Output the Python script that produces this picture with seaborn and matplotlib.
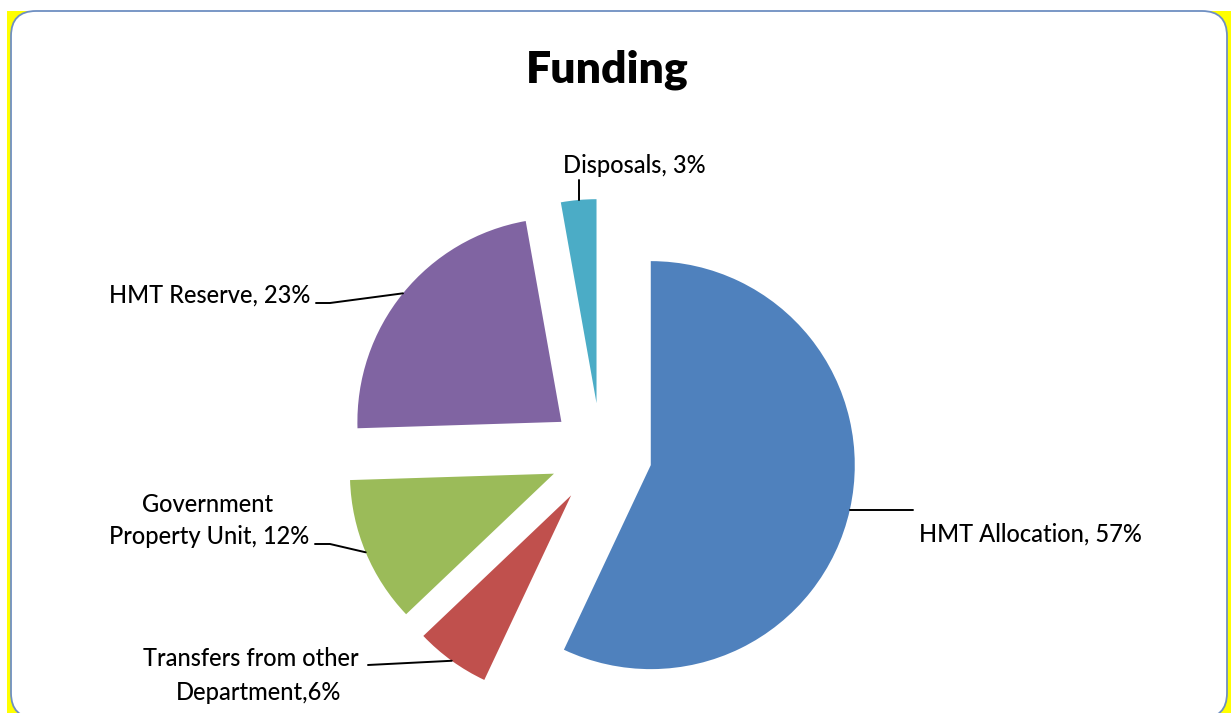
import numpy as np
import matplotlib
matplotlib.use("Agg")
import matplotlib.pyplot as plt
from matplotlib.patches import Rectangle, FancyBboxPatch
import seaborn as sns

# ---- data ----
categories = ["HMT Allocation", "Transfers from other Department", "Government Property Unit",
              "HMT Reserve", "Disposals"]
shares = [57.0, 5.9, 11.6, 22.7, 2.8]
label_texts = [["HMT Allocation, 57%"],
               ["Transfers from other", "Department,6%"],
               ["Government", "Property Unit, 12%"],
               ["HMT Reserve, 23%"],
               ["Disposals, 3%"]]
title = "Funding"

sns.set_theme(style="white")
plt.rcParams['font.family'] = ['Lato', 'DejaVu Sans']
plt.rcParams['text.color'] = 'black'
colors = sns.color_palette(["#4F81BD", "#C0504D", "#9BBB59", "#8064A2", "#4BACC6"])

W, H = 1231, 713
fig = plt.figure(figsize=(W / 100, H / 100), dpi=100)
fig.patch.set_facecolor("white")
ax = fig.add_axes([0, 0, 1, 1])


def py(y):  # pixel row -> data y
    return H - y


# background: yellow frame + white rounded panel
ax.add_patch(Rectangle((7, -20), W, py(11) + 20, facecolor="#FFFF00", edgecolor="none", zorder=0))
ax.add_patch(FancyBboxPatch((11, py(718)), 1227 - 11, 718 - 11,
                            boxstyle="round,pad=0,rounding_size=25",
                            facecolor="white", edgecolor="#6E8FC2", linewidth=1.3, zorder=1))

wedges, _ = ax.pie(shares, colors=colors, startangle=90, counterclock=False,
                   center=(601, py(454)), radius=204, explode=[51] * len(shares),
                   wedgeprops=dict(linewidth=0, zorder=2))
for w in wedges:
    w.set_zorder(2)

ax.set_xlim(0, W)
ax.set_ylim(0, H)
ax.set_aspect("equal")
ax.axis("off")


def arc_mid(w):
    t = np.deg2rad((w.theta1 + w.theta2) / 2)
    cx, cy = w.center
    return cx + w.r * np.cos(t), cy + w.r * np.sin(t)


fs = 17
tk = dict(fontsize=fs, color="black", zorder=4, fontweight="medium")
lc = dict(color="black", linewidth=1.4, zorder=3)

# HMT Allocation
mx, my = arc_mid(wedges[0])
ax.plot([mx, 913], [my, my], **lc)
ax.text(919, py(542), label_texts[0][0], ha="left", va="baseline", **tk)

# Transfers
mx, my = arc_mid(wedges[1])
ax.plot([368, mx], [py(665), my], **lc)
ax.text(251, py(666), label_texts[1][0], ha="center", va="baseline", **tk)
ax.text(259, py(700), label_texts[1][1], ha="center", va="baseline", **tk)

# Government Property Unit
mx, my = arc_mid(wedges[2])
ax.plot([315, 330, mx], [py(544), py(544), my], **lc)
ax.text(208, py(512), label_texts[2][0], ha="center", va="baseline", **tk)
ax.text(209, py(544), label_texts[2][1], ha="center", va="baseline", **tk)

# HMT Reserve
mx, my = arc_mid(wedges[3])
ax.plot([316, 330, mx], [py(303), py(303), my], **lc)
ax.text(310, py(303), label_texts[3][0], ha="right", va="baseline", **tk)

# Disposals
mx, my = arc_mid(wedges[4])
ax.plot([mx, mx], [my, py(180)], **lc)
ax.text(634, py(173), label_texts[4][0], ha="center", va="baseline", **tk)

ax.text(607, py(82), title, ha="center", va="baseline", fontsize=32, fontweight="heavy",
        color="black", zorder=4)

fig.savefig("out.png", dpi=100, facecolor=fig.get_facecolor())
